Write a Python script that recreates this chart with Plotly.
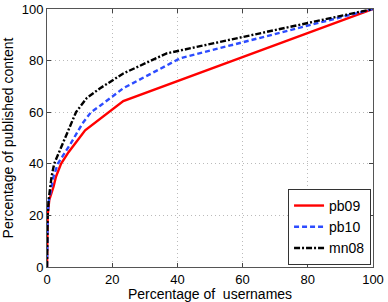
import plotly.graph_objects as go

pb09_x = [0, 0.05, 0.2, 0.7, 2.0, 2.75, 4.3, 6.6, 9.4, 11.7, 23.4, 100]
pb09_y = [0, 8, 20, 26, 31.1, 35, 40, 44.5, 49, 53, 64.3, 100]

pb10_x = [0, 0.05, 0.2, 0.6, 1.4, 2.0, 3.3, 7.3, 10.9, 13.5, 16.3, 23.4, 34.1, 40.8, 100]
pb10_y = [0, 8, 20, 26, 31.1, 35, 40, 47.9, 55.7, 60, 62.5, 69.3, 76.4, 80.9, 100]

mn08_x = [0, 0.05, 0.2, 0.5, 1.0, 1.4, 2.2, 4.8, 7.3, 8.9, 12.2, 16.3, 23.4, 36.7, 100]
mn08_y = [0, 10, 20, 26, 31.1, 35, 40, 47.9, 55.7, 60, 65.5, 69.3, 75, 82.8, 100]

ticks = [0, 20, 40, 60, 80, 100]

fig = go.Figure()
fig.add_trace(go.Scatter(x=pb09_x, y=pb09_y, mode="lines", name="pb09",
                         line=dict(color="#ff0000", width=2.4, dash="solid")))
fig.add_trace(go.Scatter(x=pb10_x, y=pb10_y, mode="lines", name="pb10",
                         line=dict(color="#2d4cff", width=2.4, dash="5px,3px")))
fig.add_trace(go.Scatter(x=mn08_x, y=mn08_y, mode="lines", name="mn08",
                         line=dict(color="#000000", width=2.4, dash="6px,2px,2px,2px")))

axis_common = dict(
    range=[0, 100], tickvals=ticks, ticks="inside", ticklen=4, tickcolor="#444",
    showline=True, linecolor="#555", linewidth=1, mirror="ticks",
    showgrid=True, gridcolor="#bbbbbb", griddash="1px,3px", gridwidth=1,
    zeroline=False, tickfont=dict(size=13, color="#000"), automargin=False,
)

fig.update_layout(
    width=388, height=302,
    margin=dict(l=47, r=15, t=9, b=35),
    paper_bgcolor="white", plot_bgcolor="white",
    font=dict(family="Liberation Sans, Arial, sans-serif", color="#000"),
    xaxis=dict(axis_common, title=dict(text="Percentage of  usernames", font=dict(size=14), standoff=0)),
    yaxis=dict(axis_common, title=dict(text="Percentage of published content", font=dict(size=14), standoff=4)),
    legend=dict(x=0.994, y=0.008, xanchor="right", yanchor="bottom",
                bgcolor="white", bordercolor="#333", borderwidth=1,
                font=dict(size=14), tracegroupgap=0, itemwidth=30),
    showlegend=True,
)

fig.write_html("out.html", config={"displayModeBar": False},
               post_script="document.body.style.margin='0';document.body.style.padding='0';document.body.style.overflow='hidden';")
